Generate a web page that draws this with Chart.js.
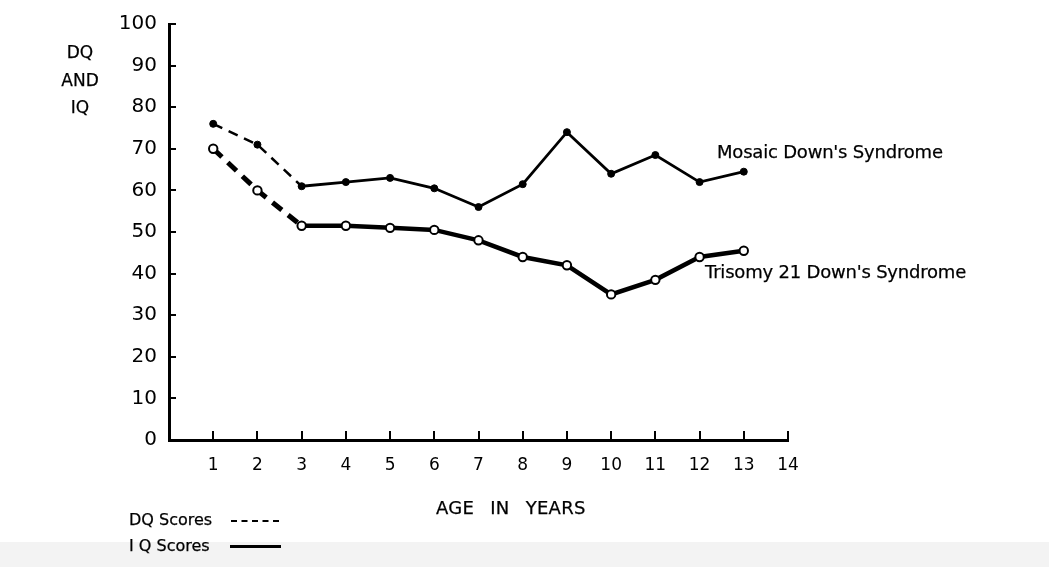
<!DOCTYPE html>
<html>
<head>
<meta charset="utf-8">
<title>DQ and IQ by Age</title>
<script src="https://cdn.jsdelivr.net/npm/chart.js@4.4.1/dist/chart.umd.min.js"></script>
<style>
  html, body { margin: 0; padding: 0; background: #fff; }
  #wrap { position: relative; width: 1049px; height: 567px; overflow: hidden; background: #fff; }
  #band { position: absolute; left: 0; top: 542px; width: 1049px; height: 25px; background: #f3f3f3; }
  #chart { position: absolute; left: 0; top: 0; }
  .lbl { position: absolute; font-family: "DejaVu Sans", sans-serif; color: #000; white-space: nowrap; line-height: 1; -webkit-text-stroke: 0.25px #000; }
  #yTitle { left: 50px; top: 39px; width: 60px; text-align: center; font-size: 17px; line-height: 27.5px; }
  #mosaicLbl { left: 717px; top: 143px; font-size: 18px; letter-spacing: -0.2px; }
  #trisomyLbl { left: 705px; top: 263px; font-size: 18px; letter-spacing: -0.2px; }
  #xTitle { left: 436px; top: 499px; font-size: 18px; letter-spacing: 0.3px; word-spacing: 10px; }
  #dqKey { left: 129px; top: 512px; font-size: 16px; }
  #iqKey { left: 129px; top: 538px; font-size: 16px; }
  .key { position: absolute; height: 0; }
  #dqLine { left: 231px; top: 520px; width: 48px; border-top: 2px dashed #000; }
  #iqLine { left: 230px; top: 545px; width: 51px; border-top: 3px solid #000; }
</style>
</head>
<body>
<div id="wrap">
  <div id="band"></div>
  <canvas id="chart" width="1049" height="567"></canvas>
  <div class="lbl" id="yTitle">DQ<br>AND<br>IQ</div>
  <div class="lbl" id="mosaicLbl">Mosaic Down's Syndrome</div>
  <div class="lbl" id="trisomyLbl">Trisomy 21 Down's Syndrome</div>
  <div class="lbl" id="xTitle">AGE IN YEARS</div>
  <div class="lbl" id="dqKey">DQ Scores</div>
  <div class="lbl" id="iqKey">I Q Scores</div>
  <div class="key" id="dqLine"></div>
  <div class="key" id="iqLine"></div>
</div>
<script>
// Age in years at each measurement
const ages = [1, 2, 3, 4, 5, 6, 7, 8, 9, 10, 11, 12, 13];
// Mean scores, mosaic Down's syndrome group
const mosaicScores = [76, 71, 61, 62, 63, 60.5, 56, 61.5, 74, 64, 68.5, 62, 64.5];
// Mean scores, trisomy 21 Down's syndrome group
const trisomyScores = [70, 60, 51.5, 51.5, 51, 50.5, 48, 44, 42, 35, 38.5, 44, 45.5];
// Scores up to this age are DQ (dashed); later ones are IQ (solid)
const dqLastAge = 3;
// Axis tick labels
const xTickLabels = ['1', '2', '3', '4', '5', '6', '7', '8', '9', '10', '11', '12', '13', '14'];
const yTickValues = [0, 10, 20, 30, 40, 50, 60, 70, 80, 90, 100];

const FONT = '"DejaVu Sans", sans-serif';
const INK = '#000';

const toPoints = vals => ages.map((a, i) => ({ x: a, y: vals[i] }));

// Short tick marks drawn on the inside of both axes
const innerTicks = {
  id: 'innerTicks',
  afterDraw(chart) {
    const { ctx, chartArea: ca, scales: { x, y } } = chart;
    ctx.save();
    ctx.strokeStyle = INK;
    ctx.lineWidth = 2;
    ctx.beginPath();
    yTickValues.forEach(v => {
      if (v === 0) return;
      const py = Math.round(y.getPixelForValue(v));
      ctx.moveTo(ca.left, py);
      ctx.lineTo(ca.left + 7, py);
    });
    xTickLabels.forEach((_, i) => {
      const px = Math.round(x.getPixelForValue(i + 1));
      ctx.moveTo(px, ca.bottom);
      ctx.lineTo(px, ca.bottom - 9);
    });
    ctx.stroke();
    ctx.restore();
  }
};

new Chart(document.getElementById('chart'), {
  type: 'line',
  data: {
    datasets: [
      {
        label: "Mosaic Down's Syndrome",
        data: toPoints(mosaicScores),
        borderColor: INK,
        borderWidth: 2.8,
        pointRadius: 3.5,
        pointBackgroundColor: INK,
        pointBorderColor: INK,
        pointBorderWidth: 1,
        segment: {
          borderWidth: c => c.p1.parsed.x <= dqLastAge ? 2.5 : 2.8,
          borderDash: c => c.p1.parsed.x <= dqLastAge ? [10, 7] : undefined
        }
      },
      {
        label: "Trisomy 21 Down's Syndrome",
        data: toPoints(trisomyScores),
        borderColor: INK,
        borderWidth: 4.5,
        pointRadius: 4.2,
        pointBackgroundColor: '#fff',
        pointBorderColor: INK,
        pointBorderWidth: 2,
        segment: {
          borderWidth: c => c.p1.parsed.x <= dqLastAge ? 5 : 4.5,
          borderDash: c => c.p1.parsed.x <= dqLastAge ? [12, 8] : undefined
        }
      }
    ]
  },
  options: {
    responsive: false,
    animation: false,
    events: [],
    layout: { padding: { left: 0, top: 17, right: 261, bottom: 87 } },
    plugins: { legend: { display: false }, tooltip: { enabled: false } },
    elements: { line: { tension: 0, borderCapStyle: 'butt' } },
    scales: {
      x: {
        type: 'linear',
        min: 0,
        max: 14,
        afterFit: s => { s.height = 40; },
        afterBuildTicks: s => { s.ticks = xTickLabels.map((_, i) => ({ value: i + 1 })); },
        ticks: {
          autoSkip: false,
          maxRotation: 0,
          padding: 15,
          color: INK,
          font: { family: FONT, size: 17 },
          callback: v => xTickLabels[v - 1] ?? ''
        },
        grid: { drawOnChartArea: false, drawTicks: false, color: 'transparent' },
        border: { display: true, color: INK, width: 3 }
      },
      y: {
        min: 0,
        max: 100,
        afterFit: s => { s.width = 169; },
        afterBuildTicks: s => { s.ticks = yTickValues.map(v => ({ value: v })); },
        ticks: {
          padding: 12,
          color: INK,
          font: { family: FONT, size: 20 }
        },
        grid: { drawOnChartArea: false, drawTicks: false, color: 'transparent' },
        border: { display: true, color: INK, width: 3 }
      }
    }
  },
  plugins: [innerTicks]
});
</script>
</body>
</html>
